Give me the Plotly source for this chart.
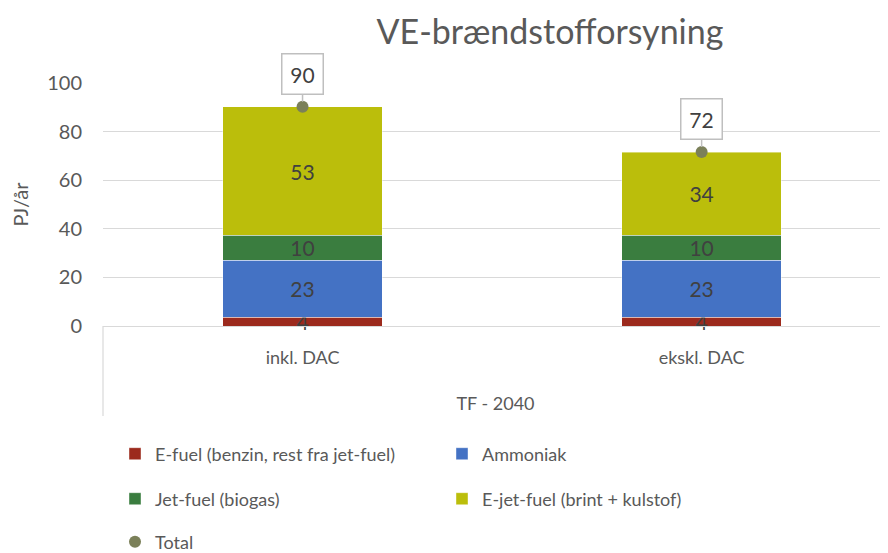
import plotly.graph_objects as go

categories = ["inkl. DAC", "ekskl. DAC"]
group_label = "TF - 2040"
e_fuel = [3.6, 3.6]
ammoniak = [23.4, 23.4]
jet_fuel = [10.3, 10.3]
e_jet_fuel = [52.9, 34.3]
total = [90.2, 71.6]
y_ticks = [0, 20, 40, 60, 80, 100]

names = ["E-fuel (benzin, rest fra jet-fuel)", "Ammoniak", "Jet-fuel (biogas)", "E-jet-fuel (brint + kulstof)"]
series = [e_fuel, ammoniak, jet_fuel, e_jet_fuel]
colors = ["#9C2A1D", "#4472C4", "#3A7D3F", "#BBBE0B"]
legends = ["legend", "legend", "legend2", "legend2"]

FONT = "Lato, Open Sans, sans-serif"
GRAY = "#595959"

# page has an 8px body margin; figure is sized to end at the window edge
W, H = 880, 545

fig = go.Figure()
for n, s, c, lg in zip(names, series, colors, legends):
    fig.add_trace(go.Bar(
        x=categories, y=s, name=n, marker=dict(color=c, line=dict(color="rgba(255,255,255,0.6)", width=0.7)),
        width=0.4, text=s, texttemplate="%{y:.0f}", textposition="inside", insidetextanchor="middle",
        constraintext="none", textangle=0, cliponaxis=False,
        textfont=dict(color="#404040", size=21, family=FONT), legend=lg, hoverinfo="skip"))

fig.add_trace(go.Scatter(
    x=categories, y=total, name="Total", mode="markers",
    marker=dict(color="#7B8059", size=12), legend="legend3", cliponaxis=False))

for c, t in zip(categories, total):
    fig.add_annotation(x=c, y=t, text=f"{t:.0f}", showarrow=True, arrowhead=0, arrowcolor="#BFBFBF",
                       arrowwidth=1.5, ax=0, ay=-33, bgcolor="white", bordercolor="#BFBFBF", borderwidth=1.5,
                       borderpad=7, width=26, font=dict(size=21, color="#404040", family=FONT), standoff=5)

fig.add_shape(type="line", xref="paper", yref="paper", x0=0, x1=0, y0=0, y1=-0.37,
              line=dict(color="#D9D9D9", width=1.2))

fig.update_layout(
    width=W, height=H, barmode="stack", bargap=0.6,
    margin=dict(l=95, r=0, t=75, b=227, autoexpand=False),
    paper_bgcolor="white", plot_bgcolor="white",
    font=dict(family=FONT, color=GRAY, size=18),
    title=dict(text="VE-brændstofforsyning", x=542 / W, xanchor="center", y=1 - 24 / H, yanchor="middle",
               font=dict(size=34, color=GRAY, family=FONT)),
    xaxis=dict(range=[-0.5, 1.467], showgrid=False, showline=True, linecolor="#D9D9D9", linewidth=1.2,
               ticks="outside", ticklen=15, tickcolor="rgba(0,0,0,0)", tickfont=dict(size=18, color=GRAY),
               title=dict(text=group_label, standoff=30, font=dict(size=18, color=GRAY))),
    yaxis=dict(range=[0, 100], tickvals=y_ticks, showgrid=True, gridcolor="#D9D9D9", gridwidth=1.2,
               zeroline=False, ticks="", ticklabelstandoff=20, tickfont=dict(size=20, color=GRAY),
               title=dict(text="PJ/år", standoff=14, font=dict(size=20, color=GRAY))),
    legend=dict(orientation="h", x=12 / 785, xanchor="left", y=-128 / 243, yanchor="middle",
                entrywidth=282, entrywidthmode="pixels", font=dict(size=18, color=GRAY), traceorder="normal",
                itemwidth=30),
    legend2=dict(orientation="h", x=12 / 785, xanchor="left", y=-173 / 243, yanchor="middle",
                 entrywidth=282, entrywidthmode="pixels", font=dict(size=18, color=GRAY), traceorder="normal",
                 itemwidth=30),
    legend3=dict(orientation="h", x=12 / 785, xanchor="left", y=-216 / 243, yanchor="middle",
                 font=dict(size=18, color=GRAY), itemwidth=30),
    showlegend=True,
)

fig.write_html("out.html")
